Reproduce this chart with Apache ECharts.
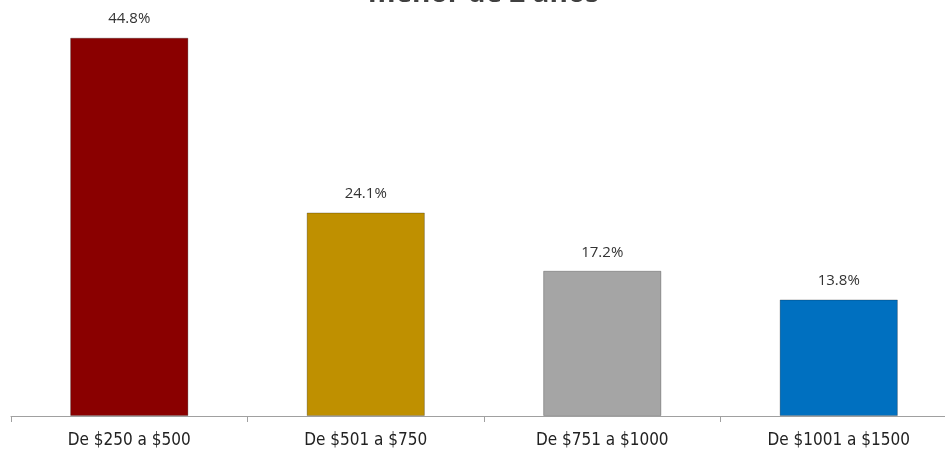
<!DOCTYPE html>
<html>
<head>
<meta charset="utf-8">
<script src="https://cdn.jsdelivr.net/npm/echarts@6/dist/echarts.min.js"></script>
<style>
  html, body { margin: 0; padding: 0; background: #fff; overflow: hidden; }
  #m1 { width: 958px; height: 456px; }
</style>
</head>
<body>
<div id="m1"></div>
<script>
var categories = ['De $250 a $500', 'De $501 a $750', 'De $751 a $1000', 'De $1001 a $1500'];
var values = [44.8, 24.1, 17.2, 13.8];
var barColors = ['#8a0000', '#bf9000', '#a5a5a5', '#0070c0'];

function initBar() {
    var myChart = echarts.init(document.getElementById('m1'));

    var option = {
        animation: false,
        title: {
            text: 'menor de 2 años',
            left: 368,
            top: -20,
            padding: 0,
            textStyle: { fontSize: 28, fontWeight: 'bold', color: '#404040', fontFamily: 'Open Sans' }
        },
        grid: { left: 11, right: 1, top: 36, bottom: 40 },
        xAxis: {
            type: 'category',
            data: categories,
            axisLine: { lineStyle: { color: '#a0a0a0' } },
            axisTick: { show: true, length: 6, lineStyle: { color: '#a0a0a0' } },
            axisLabel: { fontSize: 17, color: '#222', margin: 16, fontFamily: 'Liberation Sans Narrow, DejaVu Sans Condensed, sans-serif' }
        },
        yAxis: {
            type: 'value',
            min: 0,
            max: 45,
            show: false
        },
        series: [{
            type: 'bar',
            barWidth: '50%',
            data: values.map(function (v, i) {
                return { value: v, itemStyle: { color: barColors[i], borderColor: 'rgba(0,0,0,0.25)', borderWidth: 1 } };
            }),
            label: {
                show: true,
                position: 'top',
                distance: 11,
                formatter: function (p) { return p.value.toFixed(1) + '%'; },
                fontSize: 15,
                color: '#333',
                fontFamily: 'Open Sans'
            }
        }]
    };

    myChart.setOption(option);
    window.addEventListener('resize', function () { myChart.resize(); });
}

initBar();
</script>
</body>
</html>
